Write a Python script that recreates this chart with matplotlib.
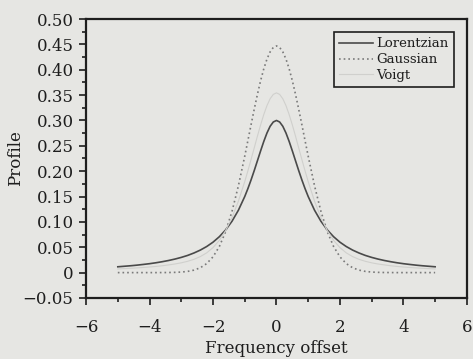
import matplotlib
matplotlib.use("Agg")
import matplotlib.pyplot as plt
from matplotlib.ticker import MultipleLocator, FixedLocator, FixedFormatter

# Frequency offset samples, positive half (curves are symmetric about 0)
x_half = [0.0, 0.1, 0.2, 0.3, 0.4, 0.5, 0.6, 0.7, 0.8, 0.9, 1.0,
          1.2, 1.4, 1.6, 1.8, 2.0, 2.2, 2.4, 2.6, 2.8, 3.0,
          3.2, 3.4, 3.6, 3.8, 4.0, 4.2, 4.4, 4.6, 4.8, 5.0]

lorentz_half = [0.300, 0.2970, 0.2885, 0.2752, 0.2586, 0.2400, 0.2206, 0.2013,
                0.1829, 0.1657, 0.150, 0.1230, 0.1014,
                0.0843, 0.0708, 0.060, 0.0514, 0.0444, 0.0387, 0.0339, 0.030,
                0.0267, 0.0239, 0.0215, 0.0194, 0.0176, 0.0161, 0.0147, 0.0135,
                0.0125, 0.0115]
gauss_half = [0.447, 0.4440, 0.4352, 0.4210, 0.4018, 0.3784, 0.3516, 0.3224,
              0.2918, 0.2605, 0.2295, 0.1711, 0.1210,
              0.0811, 0.0515, 0.0311, 0.0177, 0.0096, 0.0049, 0.0024, 0.0011,
              0.0005, 0.0002, 0.0001, 0.0, 0.0, 0.0, 0.0, 0.0, 0.0, 0.0]
voigt_half = [0.3544, 0.3514, 0.3428, 0.3292, 0.3116, 0.2912, 0.2691, 0.2461,
              0.2232, 0.2008, 0.1794, 0.1408, 0.1087,
              0.0831, 0.0637, 0.0493, 0.0389, 0.0316, 0.0262, 0.0223, 0.0193,
              0.0170, 0.0152, 0.0135, 0.0122, 0.0111, 0.0101, 0.0093, 0.0085,
              0.0079, 0.0072]

x = [-v for v in x_half[:0:-1]] + x_half
lorentzian = lorentz_half[:0:-1] + lorentz_half
gaussian = gauss_half[:0:-1] + gauss_half
voigt = voigt_half[:0:-1] + voigt_half

ytick_vals = [-0.05, 0, 0.05, 0.10, 0.15, 0.20, 0.25, 0.30, 0.35, 0.40, 0.45, 0.50]
ytick_labels = ["\u22120.05", "0", "0.05", "0.10", "0.15", "0.20", "0.25",
                "0.30", "0.35", "0.40", "0.45", "0.50"]
xtick_vals = [-6, -4, -2, 0, 2, 4, 6]
xtick_labels = ["\u22126", "\u22124", "\u22122", "0", "2", "4", "6"]

bg = "#e6e6e3"
ink = "#1e1e1e"
plt.rcParams['font.family'] = ['DejaVu Serif']

fig = plt.figure(figsize=(4.73, 3.59), dpi=100, facecolor=bg)
ax = fig.add_axes([0.182, 0.170, 0.805, 0.777], facecolor=bg)

ax.plot(x, lorentzian, color="#4a4a4a", lw=1.2, label="Lorentzian")
ax.plot(x, gaussian, color="#7a7a7a", lw=1.2, ls=(0, (1, 1.8)), label="Gaussian")
ax.plot(x, voigt, color="#d0d0cd", lw=0.8, label="Voigt")

ax.set_xlim(-6, 6)
ax.set_ylim(-0.05, 0.50)
ax.xaxis.set_major_locator(FixedLocator(xtick_vals))
ax.xaxis.set_major_formatter(FixedFormatter(xtick_labels))
ax.xaxis.set_minor_locator(MultipleLocator(1))
ax.yaxis.set_major_locator(FixedLocator(ytick_vals))
ax.yaxis.set_major_formatter(FixedFormatter(ytick_labels))
ax.yaxis.set_minor_locator(MultipleLocator(0.025))

ax.tick_params(which="both", direction="out", top=False, right=False,
               colors=ink, width=1.2)
ax.tick_params(which="major", length=5, labelsize=12)
ax.tick_params(which="minor", length=3)
ax.tick_params(axis="x", which="major", pad=10)
ax.tick_params(axis="y", which="major", pad=4)
for s in ax.spines.values():
    s.set_linewidth(1.6)
    s.set_color(ink)

ax.set_xlabel("Frequency offset", fontsize=12, color=ink, labelpad=3)
ax.set_ylabel("Profile", fontsize=12, color=ink, labelpad=-1)

leg = ax.legend(loc="upper right", fontsize=9.5, frameon=True, fancybox=False,
                edgecolor=ink, facecolor=bg, framealpha=1,
                handlelength=2.6, handletextpad=0.2, borderpad=0.4,
                labelspacing=0.2, borderaxespad=1.0)
leg.get_frame().set_linewidth(1.2)
for t in leg.get_texts():
    t.set_color(ink)

fig.savefig("out.png", dpi=100, facecolor=bg)
